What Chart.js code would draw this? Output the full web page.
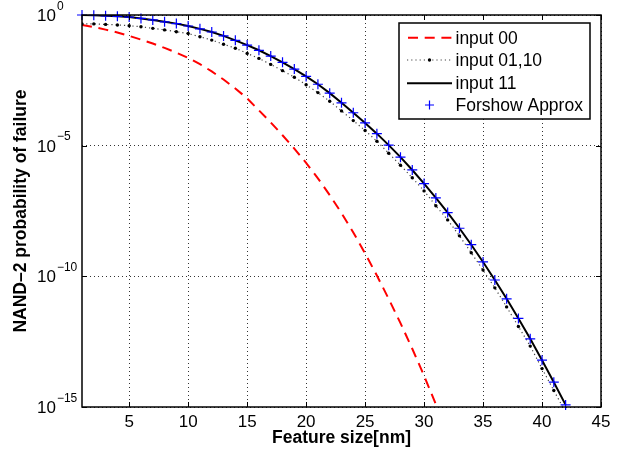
<!DOCTYPE html>
<html>
<head>
<meta charset="utf-8">
<script src="https://cdn.jsdelivr.net/npm/chart.js@4/dist/chart.umd.min.js"></script>
<style>
  body { margin: 0; background: #fff; }
  #wrap { width: 620px; height: 456px; }
</style>
</head>
<body>
<div id="wrap"><canvas id="myChart" width="620" height="456"></canvas></div>
<script>
// feature size [nm]
const featureSize = [1, 2, 3, 4, 5, 6, 7, 8, 9, 10, 11, 12, 13, 14, 15, 16, 17, 18, 19, 20, 21,
  22, 23, 24, 25, 26, 27, 28, 29, 30, 31, 32, 33, 34, 35, 36, 37, 38, 39, 40, 41, 42];

const input00Exp = [-0.38, -0.46, -0.56, -0.67, -0.80, -0.94, -1.09, -1.26, -1.44, -1.64,
  -1.88, -2.16, -2.47, -2.81, -3.19, -3.65, -4.11, -4.60, -5.11, -5.66, -6.25,
  -6.89, -7.58, -8.32, -9.12, -9.97, -10.86, -11.79, -12.77, -13.80, -14.90];
const input0110Exp = [-0.34, -0.34, -0.36, -0.38, -0.41, -0.45, -0.51, -0.57, -0.64, -0.71,
  -0.83, -0.96, -1.12, -1.27, -1.47, -1.66, -1.89, -2.13, -2.38, -2.67, -2.97,
  -3.30, -3.67, -4.04, -4.42, -4.83, -5.29, -5.75, -6.23, -6.73, -7.30, -7.84,
  -8.45, -9.10, -9.76, -10.44, -11.17, -11.92, -12.67, -13.53, -14.37, -15.20];
const input11Exp = [0, -0.01, -0.03, -0.05, -0.08, -0.13, -0.19, -0.26, -0.33, -0.42,
  -0.53, -0.65, -0.80, -0.97, -1.15, -1.35, -1.57, -1.81, -2.07, -2.35, -2.65,
  -2.99, -3.36, -3.74, -4.13, -4.54, -4.98, -5.44, -5.93, -6.45, -7.00, -7.56,
  -8.16, -8.79, -9.45, -10.14, -10.86, -11.61, -12.39, -13.21, -14.05, -14.92];
const forshowExp = [0, -0.01, -0.03, -0.05, -0.08, -0.13, -0.19, -0.26, -0.33, -0.42,
  -0.53, -0.65, -0.80, -0.97, -1.15, -1.35, -1.57, -1.81, -2.07, -2.35, -2.65,
  -2.99, -3.36, -3.74, -4.13, -4.54, -4.98, -5.44, -5.93, -6.45, -7.00, -7.56,
  -8.16, -8.79, -9.45, -10.14, -10.86, -11.61, -12.39, -13.21, -14.05, -14.92];

const xTicks = [5, 10, 15, 20, 25, 30, 35, 40, 45];
const yTickExps = [0, -5, -10, -15];
const seriesNames = ["input 00", "input 01,10", "input 11", "Forshow Approx"];

const FONT = "'Liberation Sans', Arial, Helvetica, sans-serif";

function toPoints(exps) {
  return exps.map((e, i) => ({ x: featureSize[i], y: Math.pow(10, e) }));
}

// frame, inward ticks, y labels with superscripts, legend box
const matlabLook = {
  id: "matlabLook",
  afterDraw(chart) {
    const ctx = chart.ctx;
    const a = chart.chartArea;
    const xs = chart.scales.x;
    const ys = chart.scales.y;
    ctx.save();

    ctx.strokeStyle = "#000";
    ctx.lineWidth = 1;
    ctx.beginPath();
    xTicks.forEach(function (v) {
      const px = Math.round(xs.getPixelForValue(v)) + 0.5;
      ctx.moveTo(px, a.bottom); ctx.lineTo(px, a.bottom - 5);
      ctx.moveTo(px, a.top); ctx.lineTo(px, a.top + 5);
    });
    yTickExps.forEach(function (e) {
      const py = Math.round(ys.getPixelForValue(Math.pow(10, e))) + 0.5;
      ctx.moveTo(a.left, py); ctx.lineTo(a.left + 5, py);
      ctx.moveTo(a.right, py); ctx.lineTo(a.right - 5, py);
    });
    ctx.stroke();

    ctx.lineWidth = 1.5;
    ctx.strokeRect(a.left, a.top, a.right - a.left, a.bottom - a.top);

    // y tick labels: 10 with superscript exponent
    ctx.fillStyle = "#000";
    ctx.textAlign = "left";
    ctx.textBaseline = "alphabetic";
    yTickExps.forEach(function (e) {
      const py = ys.getPixelForValue(Math.pow(10, e));
      ctx.font = "17px " + FONT;
      ctx.fillText("10", 37, py + 6);
      const w = ctx.measureText("10").width;
      ctx.font = "12px " + FONT;
      ctx.fillText(e === 0 ? "0" : "\u2212" + Math.abs(e), 37 + w + 1, py - 5.5);
    });

    // legend
    const lx = 399, ly = 23, lw = 191, lh = 96;
    ctx.fillStyle = "#fff";
    ctx.fillRect(lx, ly, lw, lh);
    ctx.lineWidth = 1.5;
    ctx.strokeStyle = "#000";
    ctx.strokeRect(lx, ly, lw, lh);

    const rows = [37.7, 60, 83.3, 105];
    const x0 = 407, x1 = 452, xc = 429.5;

    ctx.strokeStyle = "#ff0000";
    ctx.lineWidth = 2;
    ctx.setLineDash([10, 6.7]);
    ctx.beginPath(); ctx.moveTo(x0 + 1, rows[0]); ctx.lineTo(x1, rows[0]); ctx.stroke();

    ctx.strokeStyle = "#444";
    ctx.lineWidth = 1.2;
    ctx.setLineDash([1.2, 3]);
    ctx.beginPath(); ctx.moveTo(x0, rows[1]); ctx.lineTo(x1, rows[1]); ctx.stroke();
    ctx.setLineDash([]);
    ctx.fillStyle = "#000";
    ctx.beginPath(); ctx.arc(xc, rows[1], 1.7, 0, Math.PI * 2); ctx.fill();

    ctx.strokeStyle = "#000";
    ctx.lineWidth = 2;
    ctx.beginPath(); ctx.moveTo(x0, rows[2]); ctx.lineTo(x1, rows[2]); ctx.stroke();

    ctx.strokeStyle = "#0000ff";
    ctx.lineWidth = 1.2;
    ctx.beginPath();
    ctx.moveTo(xc - 4.5, rows[3]); ctx.lineTo(xc + 4.5, rows[3]);
    ctx.moveTo(xc, rows[3] - 4.5); ctx.lineTo(xc, rows[3] + 4.5);
    ctx.stroke();

    ctx.fillStyle = "#000";
    ctx.font = "17.5px " + FONT;
    ctx.textBaseline = "middle";
    seriesNames.forEach(function (name, i) {
      ctx.fillText(name, 455.5, rows[i] + 1);
    });

    ctx.restore();
  }
};

const ctx = document.getElementById("myChart").getContext("2d");
const chart = new Chart(ctx, {
  type: "line",
  data: {
    datasets: [
      {
        label: seriesNames[3],
        data: toPoints(forshowExp),
        showLine: false,
        pointStyle: "cross",
        pointRadius: 5,
        borderColor: "#0000ff",
        backgroundColor: "#0000ff",
        pointBorderWidth: 1.2,
        clip: false,
        order: 0
      },
      {
        label: seriesNames[2],
        data: toPoints(input11Exp),
        borderColor: "#000",
        borderWidth: 2,
        pointRadius: 0,
        tension: 0,
        clip: 0,
        order: 1
      },
      {
        label: seriesNames[1],
        data: toPoints(input0110Exp),
        borderColor: "#444",
        borderWidth: 1.2,
        borderDash: [1.2, 3],
        pointRadius: 1.7,
        pointBackgroundColor: "#000",
        pointBorderWidth: 0,
        tension: 0,
        clip: 0,
        order: 2
      },
      {
        label: seriesNames[0],
        data: toPoints(input00Exp),
        borderColor: "#ff0000",
        borderWidth: 2,
        borderDash: [10, 6.7],
        pointRadius: 0,
        tension: 0,
        clip: 0,
        order: 3
      }
    ]
  },
  options: {
    responsive: false,
    animation: false,
    events: [],
    layout: { padding: { left: 0, right: 19, top: 15, bottom: 0 } },
    plugins: {
      legend: { display: false },
      tooltip: { enabled: false }
    },
    scales: {
      x: {
        type: "linear",
        min: 1,
        max: 45,
        afterBuildTicks: function (scale) {
          scale.ticks = xTicks.map(function (v) { return { value: v }; });
        },
        afterFit: function (scale) { scale.height = 49; },
        ticks: {
          color: "#000",
          font: { family: FONT, size: 17 },
          padding: 5,
          maxRotation: 0,
          autoSkip: false
        },
        grid: { color: "rgba(0,0,0,0.8)", lineWidth: 1, drawTicks: false },
        border: { display: false, dash: [1, 3] },
        title: {
          display: true,
          text: "Feature size[nm]",
          color: "#000",
          font: { family: FONT, size: 17.5, weight: "bold" },
          padding: { top: 0, bottom: 7 }
        }
      },
      y: {
        type: "logarithmic",
        min: 1e-15,
        max: 1,
        afterBuildTicks: function (scale) {
          scale.ticks = yTickExps.map(function (e) { return { value: Math.pow(10, e) }; });
        },
        afterFit: function (scale) { scale.width = 82; },
        ticks: { display: false },
        grid: { color: "rgba(0,0,0,0.8)", lineWidth: 1, drawTicks: false },
        border: { display: false, dash: [1, 3] },
        title: {
          display: true,
          text: "NAND\u20132 probability of failure",
          color: "#000",
          font: { family: FONT, size: 17.5, weight: "bold" },
          padding: { top: 11, bottom: 0 }
        }
      }
    }
  },
  plugins: [matlabLook]
});
</script>
</body>
</html>
